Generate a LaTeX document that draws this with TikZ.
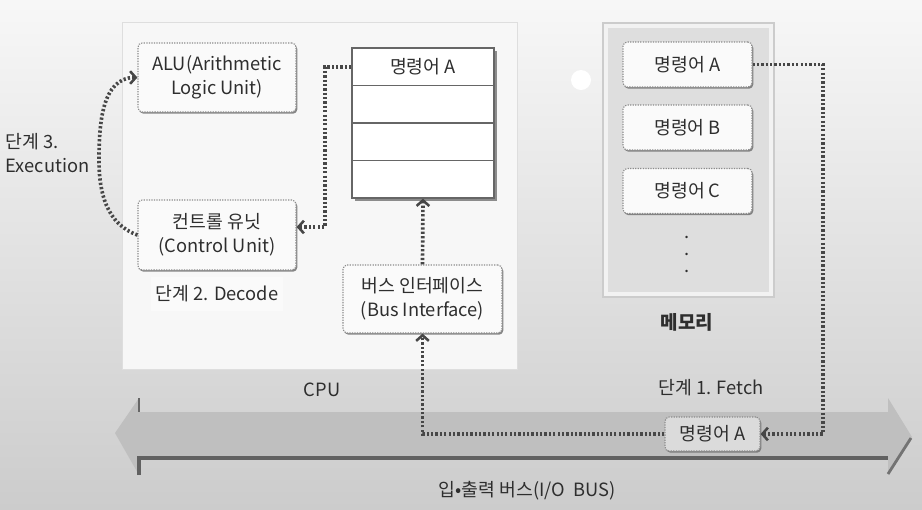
\documentclass[tikz,border=0pt]{standalone}
\usepackage{fontspec}
\setmainfont{Noto Sans CJK KR}
\usetikzlibrary{arrows.meta,shadows,calc}
\definecolor{txt}{HTML}{2E2E2E}
\begin{document}
\begin{tikzpicture}[x=0.025cm,y=-0.025cm,
  font=\fontsize{13}{17}\selectfont, text=txt,
  dbox/.style={draw=black!45, dash pattern=on 0.9pt off 0.9pt, line width=0.8pt,
    rounded corners=3pt, fill=black!2, align=center, inner sep=0pt,
    drop shadow={shadow xshift=0.9pt, shadow yshift=-1.2pt, fill=black!55, opacity=0.85}},
  regrow/.style={draw=black!60, line width=0.9pt, fill=white, minimum width=3.55cm,
    minimum height=0.9375cm, inner sep=0pt},
  conn/.style={draw=black!72, line width=2.6pt, dash pattern=on 1.6pt off 1.5pt,
    -{Straight Barb[length=4pt,width=9pt,line width=1.8pt]}},
  lbl/.style={inner sep=1pt}]
% background
\shade[top color=black!3, middle color=black!8, bottom color=black!20] (0,0) rectangle (922,509);
\useasboundingbox (0,0) rectangle (922,509);
% CPU box
\draw[draw=black!13, fill=black!3] (122,22) rectangle (517,369);
% memory box
\draw[draw=black!20, fill=black!5, line width=0.8pt] (603,23) rectangle (774,297);
\fill[black!13] (608,28) rectangle (769,292);
% white dot
\fill[white] (581,80) circle (10);
% bus arrow
\fill[black!25] (115,433) -- (139,398) -- (139,412) -- (888,412) -- (888,398) -- (912,437)
  -- (888,475) -- (888,458) -- (139,458) -- (139,475) -- cycle;
\draw[black!62, line width=2.4pt] (139,475) -- (139,458) -- (888,458);
\draw[black!60, line width=1.6pt] (139,398) -- (139,412);
\draw[black!55, line width=2pt] (911,438) -- (888,474);
% nodes
\node[dbox, minimum width=3.95cm, minimum height=1.725cm] (alu) at (217,77.5) {ALU(Arithmetic\\Logic Unit)};
\node[dbox, minimum width=3.95cm, minimum height=1.75cm] (ctrl) at (217,235) {컨트롤 유닛\\(Control Unit)};
\node[lbl, fill=black!2, minimum width=3.3cm, minimum height=0.85cm] (dec) at (217,294) {단계 2. Decode};
\node[lbl, anchor=west, align=left] (exe) at (4,153) {단계 3.\\Execution};
% register stack
\fill[black!45] (355,51) rectangle (497,201);
\node[regrow] (r1) at (423,66.75) {명령어 A};
\node[regrow] (r2) at (423,104.25) {};
\node[regrow] (r3) at (423,141.75) {};
\node[regrow] (r4) at (423,179.25) {};
\node[dbox, minimum width=3.975cm, minimum height=1.7cm] (bi) at (422.5,299) {버스 인터페이스\\(Bus Interface)};
% memory items
\node[dbox, minimum width=3.225cm, minimum height=1.125cm] (ma) at (687.5,64.5) {명령어 A};
\node[dbox, minimum width=3.225cm, minimum height=1.125cm] (mb) at (687.5,127.5) {명령어 B};
\node[dbox, minimum width=3.225cm, minimum height=1.125cm] (mc) at (687.5,191) {명령어 C};
\node[lbl] (d1) at (687,237) {.};
\node[lbl] (d2) at (687,254) {.};
\node[lbl] (d3) at (687,271) {.};
\node[lbl, font=\fontsize{13.5}{16}\selectfont\bfseries] (mem) at (687,322) {메모리};
% bus node
\node[dbox, fill=black!14, minimum width=2.375cm, minimum height=0.85cm,
  drop shadow={opacity=0}] (busa) at (712.5,434) {명령어 A};
% labels
\node[lbl] (cpu) at (322,390) {CPU};
\node[lbl] (fetch) at (711,388) {단계 1. Fetch};
\node[lbl] (io) at (527,491) {입•출력 버스(I/O\ \ BUS)};
% connectors
\coordinate (mid3) at (99,160);
\draw[conn] (ctrl.west) to[out=160, in=-90] (mid3) to[out=90, in=180] (alu.west);
\coordinate (c1) at (325,227);
\draw[conn] (r1.west) -| (c1) -- (ctrl.east |- c1);
\draw[conn] (bi.north) -- (r4.south);
\draw[conn] (busa.west) -| (bi.south);
\coordinate (c2) at (823,64.5);
\draw[conn] (ma.east) -- (c2) |- (busa.east);
\end{tikzpicture}
\end{document}
